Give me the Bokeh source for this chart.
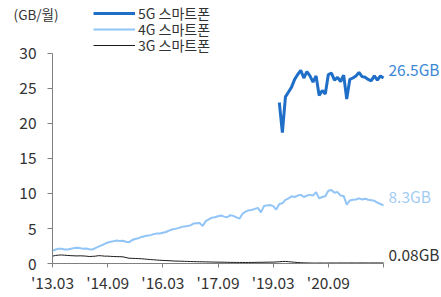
from bokeh.plotting import figure
from bokeh.models import Range1d, FixedTicker, Label, Legend, LegendItem
from bokeh.embed import file_html
from bokeh.resources import INLINE

# ---- data (GB per month per subscriber), monthly from 2013.03 ----
months = [f"{2013 + (i + 2) // 12}.{(i + 2) % 12 + 1:02d}" for i in range(109)]

lte_4g = [1.8, 2.0, 2.1, 2.1, 2.0, 2.0, 2.1, 2.2, 2.25, 2.2,
          2.1, 2.15, 2.05, 2.0, 2.2, 2.4, 2.6, 2.8, 3.0, 3.1,
          3.2, 3.3, 3.2, 3.25, 3.1, 3.05, 3.35, 3.5, 3.6, 3.8,
          3.9, 4.0, 4.05, 4.2, 4.3, 4.3, 4.4, 4.5, 4.7, 4.85,
          4.95, 5.05, 5.2, 5.3, 5.35, 5.45, 5.7, 5.75, 5.8, 5.35,
          6.05, 6.3, 6.55, 6.6, 6.75, 6.85, 6.7, 6.6, 6.9, 6.8,
          6.6, 6.4, 7.1, 7.4, 7.6, 7.65, 7.8, 7.95, 7.3, 8.2,
          8.3, 8.35, 8.2, 7.7, 8.5, 8.6, 9.1, 9.3, 9.6, 9.5,
          9.7, 9.8, 9.5, 9.7, 9.8, 9.7, 10.2, 9.3, 9.5, 9.6,
          10.4, 10.5, 10.1, 10.2, 9.7, 9.65, 8.4, 9.0, 9.1, 9.15,
          9.3, 9.15, 9.25, 9.1, 9.05, 8.95, 8.7, 8.5, 8.3]

wcdma_3g = [1.05, 1.15, 1.2, 1.22, 1.18, 1.15, 1.12, 1.1, 1.08, 1.1,
            1.08, 1.05, 1.0, 1.02, 1.05, 1.12, 1.1, 1.05, 1.05, 1.02,
            1.0, 0.98, 0.97, 0.95, 0.85, 0.75, 0.74, 0.72, 0.7, 0.68,
            0.64, 0.6, 0.56, 0.53, 0.5, 0.46, 0.44, 0.42, 0.4, 0.37,
            0.35, 0.34, 0.33, 0.31, 0.3, 0.28, 0.27, 0.26, 0.25, 0.24,
            0.23, 0.22, 0.21, 0.2, 0.19, 0.19, 0.18, 0.17, 0.16, 0.16,
            0.15, 0.15, 0.15, 0.14, 0.15, 0.15, 0.16, 0.17, 0.17, 0.18,
            0.19, 0.19, 0.2, 0.22, 0.25, 0.28, 0.3, 0.26, 0.22, 0.18,
            0.14, 0.11, 0.09, 0.08, 0.07, 0.06, 0.06, 0.07, 0.07, 0.06,
            0.07, 0.08, 0.07, 0.07, 0.08, 0.08, 0.07, 0.08, 0.08, 0.07,
            0.08, 0.08, 0.08, 0.07, 0.08, 0.08, 0.08, 0.08, 0.08]

nr_5g_start = 74  # index of first 5G month
nr_5g = [23.0, 18.7, 23.8, 24.5, 25.2, 26.3, 27.0, 27.6, 26.5, 27.4,
         26.8, 25.9, 26.8, 24.0, 24.7, 24.2, 27.0, 27.2, 26.2, 26.6,
         26.0, 26.9, 23.5, 26.3, 26.5, 26.8, 27.3, 26.7, 26.6, 26.3,
         26.1, 26.8, 26.2, 26.8, 26.5]

series_names = ["5G 스마트폰", "4G 스마트폰", "3G 스마트폰"]
end_labels = ["26.5GB", "8.3GB", "0.08GB"]
y_ticks = [0, 5, 10, 15, 20, 25, 30]
tick_idx = [0, 18, 36, 54, 72, 90, 108]
tick_labels = ["'13.03", "'14.09", "'16.03", "'17.09", "'19.03", "'20.09", ""]
unit_label = "(GB/월)"

FONT = "Noto Sans CJK KR"
FS_NUM = "15.5px"
FS_TXT = "14px"
C5, C4, C3 = "#1f6fc8", "#92c5f7", "#1a1a1a"
L5, L4, L3 = "#3d88d6", "#a3ccf3", "#333333"

# frame covers the whole canvas; axes are pinned at x=0 / y=0 with bounds
p = figure(width=441, height=297, output_backend="svg", toolbar_location=None,
           x_range=Range1d(-16.97, 126.92), y_range=Range1d(-4.857, 37.571),
           min_border=0)
p.outline_line_color = None
p.xgrid.visible = False
p.ygrid.visible = False
p.background_fill_color = "white"

x_all = list(range(len(months)))
x5 = list(range(nr_5g_start, nr_5g_start + len(nr_5g)))

r5 = p.line(x5, nr_5g, line_color=C5, line_width=3)
r4 = p.line(x_all, lte_4g, line_color=C4, line_width=2)
r3 = p.line(x_all, wcdma_3g, line_color=C3, line_width=1)

for ax in (p.xaxis[0], p.yaxis[0]):
    ax.axis_line_color = "#808080"
    ax.major_tick_line_color = "#808080"
    ax.minor_tick_line_color = None
    ax.major_tick_in = 0
    ax.major_label_text_font = FONT
    ax.major_label_text_font_size = FS_NUM
    ax.major_label_text_color = "#333333"
    ax.fixed_location = 0

p.yaxis.ticker = FixedTicker(ticks=y_ticks)
p.yaxis.bounds = (y_ticks[0], y_ticks[-1])
p.yaxis.major_tick_out = 5
p.yaxis.major_label_standoff = 11
p.xaxis.ticker = FixedTicker(ticks=tick_idx)
p.xaxis.bounds = (tick_idx[0], tick_idx[-1])
p.xaxis.major_tick_out = 4
p.xaxis.major_label_standoff = 3
p.xaxis.major_label_overrides = {t: l for t, l in zip(tick_idx, tick_labels)}

# one single-row legend per series, stacked above the plot area
for name, r, vy in zip(series_names, [r5, r4, r3], [274, 258, 242]):
    lg = Legend(items=[LegendItem(label=name, renderers=[r])],
                location=(93, vy), orientation="vertical",
                glyph_width=42, glyph_height=14, label_height=14, spacing=0,
                label_standoff=3, padding=0, margin=0,
                border_line_color=None, background_fill_alpha=0,
                label_text_font=FONT, label_text_font_size=FS_TXT,
                label_text_color="#333333")
    p.add_layout(lg, "center")

last_vals = [nr_5g[-1], lte_4g[-1], wcdma_3g[-1]]
for txt, v, c in zip(end_labels, last_vals, [L5, L4, L3]):
    p.add_layout(Label(x=len(months) - 1, y=v, text=txt, x_offset=5, y_offset=9,
                       text_baseline="middle", text_align="left",
                       text_font=FONT, text_font_size=FS_NUM, text_color=c))

p.add_layout(Label(x=-12.7, y=35.6, text=unit_label, text_baseline="middle",
                   text_align="left", text_font=FONT, text_font_size="13.5px",
                   text_color="#333333"))

open("out.html", "w").write(file_html(p, INLINE))
